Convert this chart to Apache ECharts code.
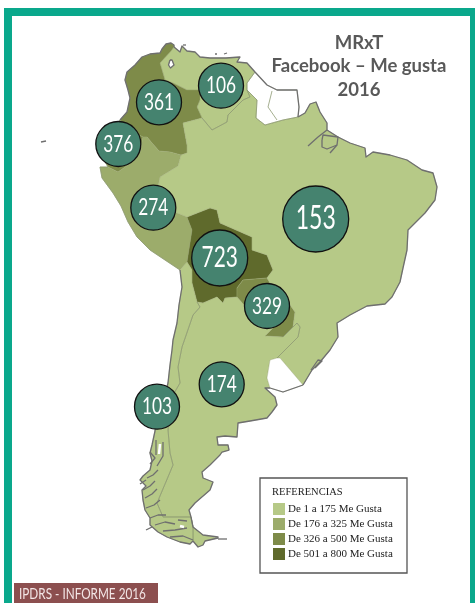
<!DOCTYPE html>
<html>
<head>
<meta charset="utf-8">
<title>MRxT Facebook - Me gusta 2016</title>
<script src="https://cdn.jsdelivr.net/npm/echarts@6/dist/echarts.min.js"></script>
<style>
html,body{margin:0;padding:0;background:#fff;}
#main{width:475px;height:603px;filter:blur(0.35px);}
</style>
</head>
<body>
<div id="main"></div>
<script>
// datos
const paises = ['Venezuela','Colombia','Ecuador','Perú','Bolivia','Paraguay','Brasil','Argentina','Chile'];
const meGusta = [106,361,376,274,723,329,153,174,103];
// centro de cada circulo sobre el mapa (x,y del dibujo original)
const centros = [[221,85.7],[159,102.3],[118.3,144],[153.3,207.7],[219.7,258],[267,306],[315.7,219],[221.7,384.3],[157,406.7]];
const rangos = ['De 1 a 175 Me Gusta','De 176 a 325 Me Gusta','De 326 a 500 Me Gusta','De 501 a 800 Me Gusta'];
const limites = [[1,175],[176,325],[326,500],[501,800]];

// costas
const costaCol = [[174,47],[174,45],[171,43],[166,44],[162,49],[160,53],[150,54],[142,57],[135,65],[127,72],[125,80],[128,90],[130,98],[127,112],[120,120]];
const costaEcu = [[120,120],[112,130],[105,145],[104,160],[108,167]];
const costaPer = [[108,167],[100,167],[102,178],[113,193],[121,206],[128,222],[137,237],[150,250],[165,260],[180,270]];
const costaChi = [[180,270],[182,287],[179,305],[177,323],[173,340],[172,350],[170,365],[168,383],[165,395],[158,410],[155,431],[152,445],[150,453],[152,461],[150,470],[143,476],[140,480],[146,486],[142,490],[143,500],[145,510],[150,518],[150,525],[158,532],[167,537],[180,542],[190,544],[193,541]];
const costaArg = [[193,541],[198,547],[203,545],[205,541],[218,538],[218,537],[203,535],[193,527],[191,517],[189,510],[195,503],[210,490],[213,482],[203,478],[202,472],[210,465],[220,455],[222,452],[229,450],[228,445],[218,445],[217,437],[225,436],[237,437],[238,423],[250,421],[267,418],[272,412],[277,405],[275,397],[265,388],[270,388]];
const costaUru = [[270,388],[283,392],[303,385]];
const costaBra = [[303,385],[312,370],[320,362],[330,350],[338,337],[337,323],[350,315],[367,306],[385,304],[392,297],[400,282],[403,268],[407,250],[408,230],[425,213],[435,200],[437,187],[433,173],[422,170],[407,160],[390,155],[373,152],[366,157],[365,148],[350,143],[338,137],[327,130],[327,123],[320,112],[316,102],[310,104],[305,113],[298,117]];
const costaGui = [[298,117],[299,107],[297,90],[277,90],[267,85],[255,72]];
const costaVen = [[255,72],[247,63],[237,62],[240,57],[226,58],[210,58],[200,57],[195,52],[187,51],[182,46],[180,52],[174,47]];

// fronteras internas
const limColVen = [[174,47],[171,51],[160,63],[165,80],[173,83],[187,90],[200,90],[200,100],[197,107],[202,118]];
const limVenBra = [[202,118],[212,130],[227,122],[228,115],[243,100],[250,97],[247,90]];
const limVenGui = [[247,90],[247,83],[255,72]];
const limGuiBra = [[247,90],[257,100],[256,118],[265,125],[283,120],[298,117]];
const limColBra = [[202,118],[183,123],[187,145],[187,153],[181,155]];
const limColEcu = [[120,120],[135,133],[143,137]];
const limColPer = [[143,137],[147,137],[152,143],[159,151],[170,152],[181,155]];
const limEcuPer = [[143,137],[140,152],[128,165],[118,172],[108,167]];
const limPerBra = [[181,155],[178,166],[160,177],[158,187],[170,208],[177,213],[187,217]];
const limPerBol = [[187,217],[192,230],[187,262]];
const limPerChi = [[187,262],[180,270]];
const limBolBra = [[187,217],[210,208],[217,210],[220,223],[252,237],[252,250],[267,255],[273,270],[267,278]];
const limBolPar = [[267,278],[243,280],[237,288],[237,297]];
const limBolArg = [[237,297],[225,298],[223,303],[217,297],[203,303],[197,302]];
const limBolChi = [[197,302],[192,283],[192,270],[187,262]];
const limParBra = [[267,278],[270,283],[290,305],[295,312],[293,327],[283,337]];
const limParArg = [[283,337],[265,336],[273,328],[257,320],[237,297]];
const limArgBra = [[283,337],[297,323],[300,327],[298,337],[277,358]];
const limUruBra = [[277,358],[280,358],[303,385]];
const limUruArg = [[277,358],[270,360],[267,378],[270,388]];
const limChiArg = [[197,302],[200,307],[193,315],[182,347],[178,367],[180,383],[170,400],[168,430],[170,453],[173,465],[157,503],[163,517],[191,517]];
const limTierra = [[191,517],[193,527],[193,541]];
const limSurinam = [[272,91],[268,107],[277,120]];
const lagoMaracaibo = [[170,60],[168.5,65],[170.5,68],[174,65],[172,60]];

// detalles de costa: fiordos, islas, estuario
const fiordos = [
  [[147,478],[153,475],[158,470]],[[143,490],[150,486],[155,481]],[[145,498],[152,494],[157,489]],
  [[146,508],[154,505],[160,500]],[[150,518],[158,515],[166,515]],[[155,525],[165,522],[175,524]],
  [[163,531],[175,530],[187,528]],[[170,537],[183,536],[193,540]],[[178,520],[187,521]],[[150,452],[155,458],[150,464]],
  [[156,440],[156,455]],[[163,442],[163,456],[157,466]],[[140,484],[146,480]],[[146,530],[152,527]],
  [[308,146],[318,137],[327,130]],[[322,140],[323,135],[338,137],[337,145],[327,149],[322,147],[322,140]],[[330,153],[337,145]],
  [[311,370],[318,360],[322,361],[315,368]]
];
const islas = [[[41,142],[46,141]],[[215,54],[217,54]],[[224,54],[227,53]],[[218,539],[227,539]],[[183,45],[186,45]]];
const canales = [[[160,444],[159,454]],[[180,526],[184,527]]];

function tramo(){
  // une tramos; un tramo invertido se pasa como [arr]
  let out = [];
  for(let i=0;i<arguments.length;i++){
    let t = arguments[i];
    let pts = t.length===1 ? t[0].slice().reverse() : t;
    out = out.concat(pts);
  }
  return out;
}
function region(name, ring){
  return {type:'Feature',properties:{name:name},geometry:{type:'Polygon',coordinates:[ring.concat([ring[0]])]}};
}
const mapa = {type:'FeatureCollection',features:[
  region('Venezuela',tramo(costaVen,limColVen,limVenBra,limVenGui)),
  region('Colombia',tramo(costaCol,limColEcu,limColPer,[limColBra],[limColVen])),
  region('Ecuador',tramo(costaEcu,[limEcuPer],[limColEcu])),
  region('Perú',tramo(costaPer,[limPerChi],[limPerBol],[limPerBra],[limColPer],limEcuPer)),
  region('Bolivia',tramo(limBolBra,limBolPar,limBolArg,limBolChi,[limPerBol])),
  region('Paraguay',tramo(limParBra,limParArg,[limBolPar])),
  region('Brasil',tramo(costaBra,[limGuiBra],[limVenBra],limColBra,limPerBra,limBolBra,limParBra,limArgBra,limUruBra)),
  region('Argentina',tramo(costaArg,[limUruArg],[limArgBra],limParArg,limBolArg,limChiArg,limTierra)),
  region('Chile',tramo(costaChi,[limTierra],[limChiArg],limBolChi,limPerChi)),
  region('Uruguay',tramo(costaUru,[limUruBra],limUruArg)),
  region('Guayanas',tramo(costaGui,[limVenGui],limGuiBra)),
  region('Maracaibo',lagoMaracaibo)
]};
echarts.registerMap('sudamerica', mapa);

const colores = ['#b6c987','#9cac6b','#7e8b49','#5f6a2c'];
const tramosCosta = [costaCol,costaChi,costaArg,costaUru,costaBra,costaGui,costaVen,lagoMaracaibo.concat([lagoMaracaibo[0]])].concat(fiordos);
const tramosInternos = [costaEcu,costaPer,limVenBra,limChiArg,limTierra,limArgBra,limGuiBra,limVenGui,limSurinam];

let myChart = echarts.init(document.getElementById('main'));
myChart.setOption({
  animation:false,
  backgroundColor:'#fff',
  title:{
    text:'MRxT\nFacebook – Me gusta\n2016',
    left:354, top:26, textAlign:'center',
    textStyle:{fontFamily:'Lato',fontWeight:'bold',fontSize:18.5,lineHeight:23.5,color:'#595959'}
  },
  geo:{
    map:'sudamerica',
    projection:{project:function(c){return c;},unproject:function(c){return c;}},
    boundingCoords:[[0,0],[475,603]],
    left:0, top:0, width:475, height:603,
    silent:true,
    label:{show:false},
    itemStyle:{areaColor:'#fff',borderColor:'#9aa672',borderWidth:0.4}
  },
  visualMap:{
    type:'piecewise',
    seriesIndex:0,
    left:273, top:503, padding:0,
    orient:'vertical',
    inverse:true,
    align:'left',
    itemWidth:12, itemHeight:12, itemGap:3, textGap:3,
    itemSymbol:'rect',
    selectedMode:false, hoverLink:false,
    textStyle:{fontFamily:'Liberation Serif',fontSize:11,color:'#222'},
    pieces:limites.map(function(l,i){return {min:l[0],max:l[1],label:rangos[i],color:colores[i]};})
  },
  graphic:[
    {type:'rect',shape:{x:4,y:8,width:471,height:8},style:{fill:'#0aa88c'},silent:true},
    {type:'rect',shape:{x:4,y:8,width:8,height:595},style:{fill:'#0aa88c'},silent:true},
    {type:'rect',shape:{x:470,y:8,width:5,height:595},style:{fill:'#0aa88c'},silent:true},
    {type:'rect',z:-1,shape:{x:260,y:478,width:147,height:95},style:{fill:'#fff',stroke:'#555',lineWidth:1.3},silent:true},
    {type:'text',x:272,y:487,style:{text:'REFERENCIAS',fontFamily:'Liberation Serif',fontSize:10.5,fill:'#222'},silent:true},
    {type:'rect',shape:{x:14,y:583,width:144,height:20},style:{fill:'#8c4f4f'},silent:true},
    {type:'text',x:19,y:587,scaleX:0.81,style:{text:'IPDRS - INFORME 2016',fontFamily:'Lato',fontSize:14.5,fill:'#f3e6e6'},silent:true}
  ],
  series:[
    {
      type:'map',
      geoIndex:0,
      data:paises.map(function(p,i){return {name:p,value:meGusta[i]};})
    },
    {
      type:'lines',
      coordinateSystem:'geo',
      polyline:true, silent:true, z:3,
      lineStyle:{color:'#8e9a74',width:0.8,opacity:1},
      data:tramosInternos.map(function(t){return {coords:t};})
    },
    {
      type:'lines',
      coordinateSystem:'geo',
      polyline:true, silent:true, z:4,
      lineStyle:{color:'#6f6f6f',width:1.3,opacity:1,join:'round'},
      data:tramosCosta.concat(islas).map(function(t){return {coords:t};})
    },
    {
      type:'lines',
      coordinateSystem:'geo',
      polyline:true, silent:true, z:4,
      lineStyle:{color:'#fff',width:2.5,opacity:1},
      data:canales.map(function(t){return {coords:t};})
    },
    {
      type:'scatter',
      coordinateSystem:'geo',
      z:5, silent:true,
      data:meGusta.map(function(v,i){return centros[i].concat(v);}),
      symbolSize:function(val){ return val[2]===153 ? 66 : val[2]===723 ? 56 : 45; },
      itemStyle:{color:'#45836f',borderColor:'#111',borderWidth:1.3,opacity:1}
    },
    {
      // numeros angostos como en la imagen
      type:'custom',
      coordinateSystem:'geo',
      z:6, silent:true,
      data:meGusta.map(function(v,i){return centros[i].concat(v);}),
      renderItem:function(params,api){
        let v = api.value(2);
        let p = api.coord([api.value(0),api.value(1)]);
        return {
          type:'text', x:p[0], y:p[1], scaleX:0.72,
          style:{text:String(v),fontFamily:'Lato',fontSize:v===153?32:v===723?29:24,fill:'#fff',align:'center',verticalAlign:'middle'}
        };
      }
    }
  ]
});
</script>
</body>
</html>
